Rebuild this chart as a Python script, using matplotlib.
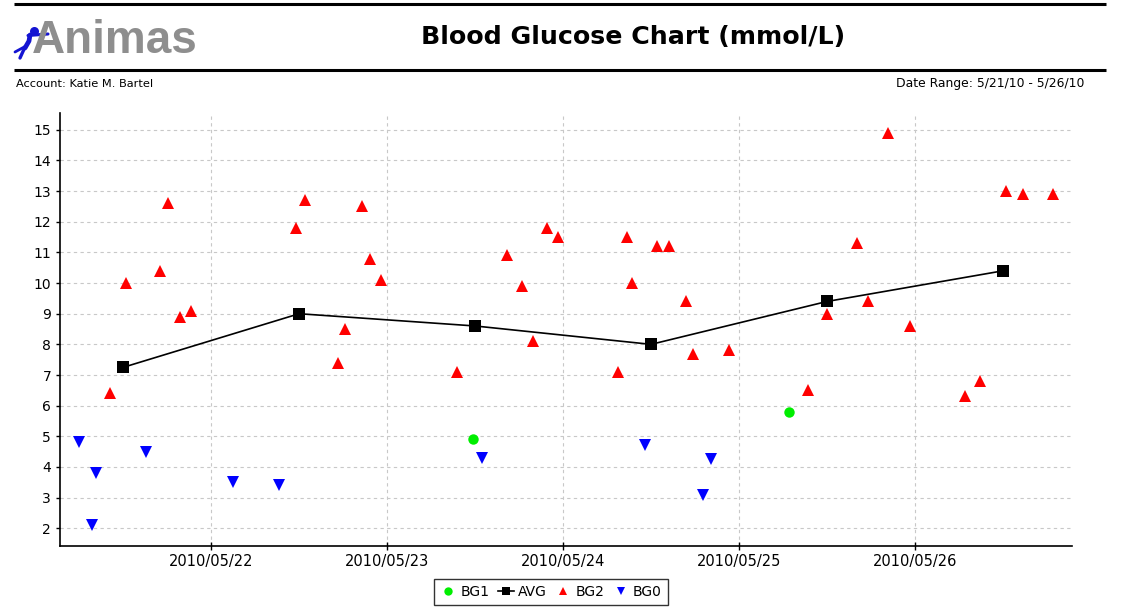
import matplotlib
matplotlib.use("Agg")
import matplotlib.pyplot as plt
import matplotlib.dates as mdates
import pandas as pd

# ---------------- data ----------------
bg0_times = ["2010-05-21 06:00", "2010-05-21 07:49", "2010-05-21 08:21", "2010-05-21 15:06",
             "2010-05-22 03:00", "2010-05-22 09:16", "2010-05-23 13:00", "2010-05-24 11:11",
             "2010-05-24 19:08", "2010-05-24 20:08"]
bg0_values = [4.8, 2.1, 3.8, 4.5, 3.5, 3.4, 4.3, 4.7, 3.1, 4.25]

bg1_times = ["2010-05-23 11:44", "2010-05-25 06:49"]
bg1_values = [4.9, 5.8]

bg2_times = ["2010-05-21 10:13", "2010-05-21 12:27", "2010-05-21 17:01", "2010-05-21 18:06",
             "2010-05-21 19:47", "2010-05-21 21:14", "2010-05-22 11:38", "2010-05-22 12:49",
             "2010-05-22 17:20", "2010-05-22 18:14", "2010-05-22 20:33", "2010-05-22 21:43",
             "2010-05-22 23:08", "2010-05-23 09:33", "2010-05-23 16:25", "2010-05-23 18:24",
             "2010-05-23 19:55", "2010-05-23 21:49", "2010-05-23 23:20", "2010-05-24 07:28",
             "2010-05-24 08:44", "2010-05-24 09:24", "2010-05-24 12:49", "2010-05-24 14:30",
             "2010-05-24 16:44", "2010-05-24 17:41", "2010-05-24 22:38", "2010-05-25 09:24",
             "2010-05-25 12:03", "2010-05-25 16:05", "2010-05-25 17:36", "2010-05-25 20:20",
             "2010-05-25 23:20", "2010-05-26 06:49", "2010-05-26 08:51", "2010-05-26 12:24",
             "2010-05-26 14:46", "2010-05-26 18:49"]
bg2_values = [6.4, 10.0, 10.4, 12.6, 8.9, 9.1, 11.8, 12.7, 7.4, 8.5, 12.5, 10.8, 10.1,
              7.1, 10.9, 9.9, 8.1, 11.8, 11.5, 7.1, 11.5, 10.0, 11.2, 11.2, 9.4, 7.7, 7.8,
              6.5, 9.0, 11.3, 9.4, 14.9, 8.6, 6.3, 6.8, 13.0, 12.9, 12.9]

avg_times = ["2010-05-21 12:00", "2010-05-22 12:00", "2010-05-23 12:00",
             "2010-05-24 12:00", "2010-05-25 12:00", "2010-05-26 12:00"]
avg_values = [7.25, 9.0, 8.6, 8.0, 9.4, 10.4]

y_ticks = list(range(2, 16))
x_start, x_end = "2010-05-21 03:19", "2010-05-26 21:25"

title = "Blood Glucose Chart (mmol/L)"
account = "Account: Katie M. Bartel"
date_range = "Date Range: 5/21/10 - 5/26/10"

# ---------------- figure ----------------
W, H = 1121, 616
fig = plt.figure(figsize=(W / 100, H / 100), dpi=100)
plt.rcParams['font.family'] = ['DejaVu Sans']

# header overlay in pixel coordinates
hdr = fig.add_axes([0, 0, 1, 1], zorder=0)
hdr.set_xlim(0, W)
hdr.set_ylim(H, 0)
hdr.axis("off")
hdr.plot([14, 1106], [3.5, 3.5], color="black", lw=2.2, solid_capstyle="butt")
hdr.plot([14, 1106], [69.5, 69.5], color="black", lw=2.2, solid_capstyle="butt")
hdr.text(633, 37, title, ha="center", va="center", fontsize=18.2, fontweight="bold")
hdr.text(16, 84, account, ha="left", va="center", fontsize=8.2)
hdr.text(1084, 84, date_range, ha="right", va="center", fontsize=8.9)
# logo
hdr.text(32, 53, "Animas", ha="left", va="baseline", fontsize=33, fontweight="bold",
         color="#8e8e8e", family="Liberation Sans")
# little blue figure
hdr.plot([34], [30.5], marker="o", ms=6.5, color="#1414d2", markeredgewidth=0)
hdr.plot([30, 29, 25], [35, 41, 48], color="#1414d2", lw=3.4, solid_capstyle="round")
hdr.plot([28, 48], [35.5, 34], color="#1414d2", lw=2.2, solid_capstyle="round")
hdr.plot([25, 20], [47, 58], color="#1414d2", lw=2.4, solid_capstyle="round")
hdr.plot([26, 15], [46, 52], color="#1414d2", lw=2.0, solid_capstyle="round")

# main axes
left, right = 59.5 / W, 1072 / W
bottom, top = 1 - 546 / H, 1 - 113 / H
ax = fig.add_axes([left, bottom, right - left, top - bottom], zorder=1)
ax.patch.set_alpha(0)

t0 = pd.to_datetime(bg0_times)
t1 = pd.to_datetime(bg1_times)
t2 = pd.to_datetime(bg2_times)
ta = pd.to_datetime(avg_times)

ax.plot(t1, bg1_values, linestyle="none", marker="o", ms=7.5, color="#00ee00",
        markeredgewidth=0, label="BG1", zorder=3)
ax.plot(ta, avg_values, color="black", lw=1.2, marker="s", ms=8,
        markeredgewidth=0, label="AVG", zorder=4)
ax.plot(t2, bg2_values, linestyle="none", marker="^", ms=8, color="#ff0000",
        markeredgewidth=0, label="BG2", zorder=3)
ax.plot(t0, bg0_values, linestyle="none", marker="v", ms=8, color="#0000ff",
        markeredgewidth=0, label="BG0", zorder=3)

ax.set_xlim(pd.Timestamp(x_start), pd.Timestamp(x_end))
ax.set_ylim(1.42, 15.55)
ax.set_yticks(y_ticks)
ax.xaxis.set_major_locator(mdates.DayLocator())
ax.xaxis.set_major_formatter(mdates.DateFormatter("%Y/%m/%d"))

for s in ["top", "right"]:
    ax.spines[s].set_visible(False)
for s in ["left", "bottom"]:
    ax.spines[s].set_color("black")
    ax.spines[s].set_linewidth(1.2)

ax.tick_params(axis="y", direction="out", length=3, width=1, labelsize=10, pad=3)
ax.tick_params(axis="x", direction="inout", length=6, width=1, labelsize=10.5, pad=3)
ax.grid(True, color="#c8c8c8", linestyle=(0, (3, 3)), lw=0.8)
ax.set_axisbelow(True)

leg = fig.legend(loc="center", bbox_to_anchor=(551 / W, 1 - 592 / H), ncol=4,
                 frameon=True, fancybox=False, edgecolor="black", fontsize=10,
                 handlelength=1.2, handletextpad=0.3, columnspacing=0.55,
                 borderpad=0.45, borderaxespad=0, markerscale=0.8)
leg.get_frame().set_linewidth(1.0)
leg.legend_handles[0].set_markersize(6)

fig.savefig("out.png", dpi=100)
